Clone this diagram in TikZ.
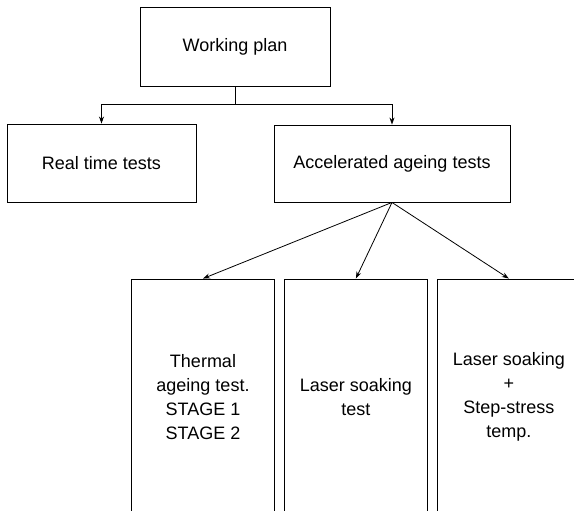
\documentclass[tikz,border=0pt]{standalone}
\usepackage{fontspec}
\setmainfont{Liberation Sans}
\usetikzlibrary{arrows.meta,positioning}

\tikzset{
  box/.style={draw, line width=0.9pt, minimum width=#1, align=center, inner sep=0pt,
    font=\fontsize{18}{24}\selectfont},
  box/.default=190pt,
  tall/.style={box=143pt, minimum height=236pt},
  link/.style={line width=0.8pt, -{Stealth[length=7pt,width=5pt]}}
}

\begin{document}
\begin{tikzpicture}[x=1pt,y=-1pt]
\useasboundingbox (0,0) rectangle (574,511);
\clip (0,0) rectangle (574,511);
% top levels
\node[box=190pt, minimum height=79pt] (plan) at (235,46.5) {Working plan};
\node[box=189pt, minimum height=78pt] (real) at (101.5,163) {Real time tests};
\node[box=236pt, minimum height=77pt] (accel) at (392,163.5) {Accelerated ageing tests};
% accelerated branches
\node[tall] (thermal) at (203,397) {Thermal\\ageing test.\\STAGE 1\\STAGE 2};
\node[tall, right=9pt of thermal] (soak) {Laser soaking\\test};
\node[tall, right=9pt of soak] (step) {Laser soaking\\+\\Step-stress\\temp.};

\draw[line width=0.8pt] (plan.south) -- ++(0,18) coordinate (split);
\draw[link] (split) -| (real.north);
\draw[link] (split) -| (accel.north);
\draw[link] (accel.south) -- (thermal.north);
\draw[link] (accel.south) -- (soak.north);
\draw[link] (accel.south) -- (step.north);
\end{tikzpicture}
\end{document}
